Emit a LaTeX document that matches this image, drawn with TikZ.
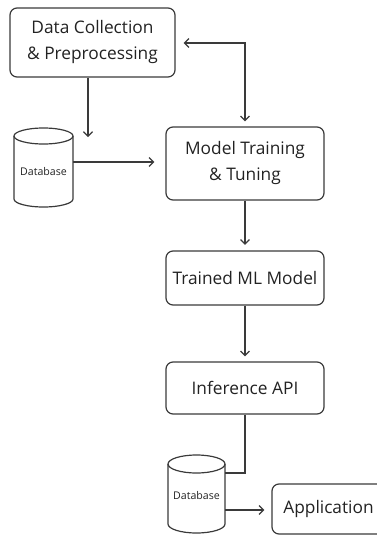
\documentclass[tikz,border=0pt]{standalone}
\usepackage{fontspec}
\setmainfont{Open Sans}
\usetikzlibrary{arrows.meta}
\definecolor{ln}{HTML}{3A3A3A}
\definecolor{tx}{HTML}{222222}
\begin{document}
\begin{tikzpicture}[x=1pt,y=-1pt,
  box/.style={draw=ln, line width=1.2pt, rounded corners=7pt, inner sep=0pt, align=center, text=tx, font=\fontsize{17.3}{26}\selectfont},
  tip/.tip={Straight Barb[length=4.5pt,width=9pt,line width=1.2pt]},
  conn/.style={draw=ln, line width=1.2pt, -tip},
  line/.style={draw=ln, line width=1.2pt},
  cyl/.style={draw=ln, line width=1.2pt},
  dbtext/.style={text=tx, font=\fontsize{10.6}{12}\selectfont, inner sep=0pt}]
\useasboundingbox (0,0) rectangle (377,536);
\begin{scope}
\clip (0,0) rectangle (377,536);
% boxes
\node[box, minimum width=165pt, minimum height=69pt] (dc) at (92.5,42.5) {Data Collection\\\& Preprocessing};
\node[box, minimum width=158pt, minimum height=73pt] (mt) at (245,163.5) {Model Training\\\& Tuning};
\node[box, minimum width=158pt, minimum height=54pt] (tm) at (245,278) {Trained ML Model};
\node[box, minimum width=158pt, minimum height=52pt] (ia) at (245,388) {Inference API};
\node[box, minimum width=113pt, minimum height=50pt] (app) at (328.5,509) {Application};
% databases (drawn shapes + named frames)
\node[inner sep=0pt, minimum width=59pt, minimum height=79pt] (db1) at (43.5,167.5) {};
\draw[cyl] (14,136) -- (14,199) arc[start angle=180, end angle=0, x radius=29.5, y radius=8] -- (73,136);
\draw[cyl] (43.5,136) ellipse [x radius=29.5, y radius=8];
\node[dbtext] (db1t) at (43.5,172) {Database};
\node[inner sep=0pt, minimum width=57pt, minimum height=78pt] (db2) at (196.5,494) {};
\draw[cyl] (168,464) -- (168,524) arc[start angle=180, end angle=0, x radius=28.5, y radius=9] -- (225,464);
\draw[cyl] (196.5,464) ellipse [x radius=28.5, y radius=9];
\node[dbtext] (db2t) at (196.5,496) {Database};
% connectors
\coordinate (a1end) at (88,137);
\draw[conn] (dc.south -| a1end) -- (a1end);
\draw[line, tip-tip, shorten <=8pt, shorten >=5pt] ([yshift=-0.5pt]dc.east) -| (mt.north);
\draw[conn, shorten >=11pt] ([yshift=5.5pt]db1.east) -- ([yshift=5.5pt]db1.east -| mt.west);
\draw[conn, shorten >=5.5pt] (mt.south) -- (tm.north);
\draw[conn, shorten >=5pt] (tm.south) -- (ia.north);
\draw[line] (ia.south) |- ([yshift=21pt]db2.east);
\draw[conn, shorten >=7pt] ([yshift=-16pt]db2.east) -- ([yshift=-16pt]db2.east -| app.west);
\end{scope}
\end{tikzpicture}
\end{document}
